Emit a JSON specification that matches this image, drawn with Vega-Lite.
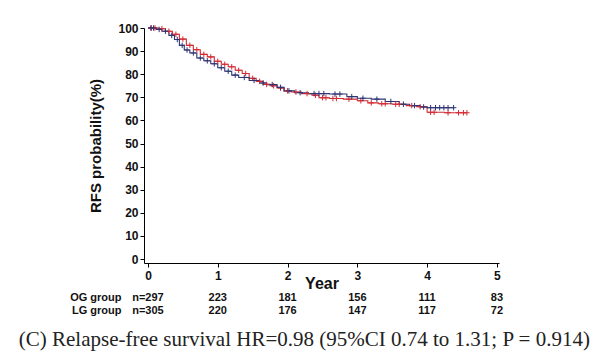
{
  "$schema": "https://vega.github.io/schema/vega-lite/v6.json",
  "background": "white",
  "padding": {"left": 18, "top": 22, "right": 5, "bottom": 5},
  "datasets": {
    "km": [
      {"g":"OG","t":0,"s":100,"c":0},{"g":"OG","t":0.05,"s":100,"c":1},{"g":"OG","t":0.1,"s":100,"c":1},{"g":"OG","t":0.15,"s":99.7,"c":0},{"g":"OG","t":0.2,"s":99.7,"c":1},{"g":"OG","t":0.25,"s":98.6,"c":0},{"g":"OG","t":0.3,"s":98.6,"c":1},{"g":"OG","t":0.35,"s":97.3,"c":0},{"g":"OG","t":0.4,"s":97.3,"c":1},{"g":"OG","t":0.45,"s":95.2,"c":0},{"g":"OG","t":0.5,"s":95.2,"c":1},{"g":"OG","t":0.55,"s":92.5,"c":0},{"g":"OG","t":0.6,"s":92.5,"c":1},{"g":"OG","t":0.65,"s":90.6,"c":0},{"g":"OG","t":0.7,"s":90.6,"c":1},{"g":"OG","t":0.75,"s":88.6,"c":0},{"g":"OG","t":0.8,"s":88.6,"c":1},{"g":"OG","t":0.85,"s":87.5,"c":0},{"g":"OG","t":0.9,"s":87.5,"c":1},{"g":"OG","t":0.95,"s":85.6,"c":0},{"g":"OG","t":1.0,"s":85.6,"c":1},{"g":"OG","t":1.05,"s":84.3,"c":0},{"g":"OG","t":1.1,"s":84.3,"c":1},{"g":"OG","t":1.15,"s":83.2,"c":0},{"g":"OG","t":1.2,"s":83.2,"c":1},{"g":"OG","t":1.25,"s":81.7,"c":0},{"g":"OG","t":1.3,"s":81.7,"c":1},{"g":"OG","t":1.35,"s":80.3,"c":0},{"g":"OG","t":1.4,"s":80.3,"c":1},{"g":"OG","t":1.45,"s":78.2,"c":0},{"g":"OG","t":1.5,"s":78.2,"c":1},{"g":"OG","t":1.55,"s":76.9,"c":0},{"g":"OG","t":1.6,"s":76.9,"c":1},{"g":"OG","t":1.65,"s":75.6,"c":0},{"g":"OG","t":1.7,"s":75.6,"c":1},{"g":"OG","t":1.75,"s":75.0,"c":0},{"g":"OG","t":1.8,"s":75.0,"c":1},{"g":"OG","t":1.85,"s":74.0,"c":0},{"g":"OG","t":1.9,"s":74.0,"c":1},{"g":"OG","t":1.95,"s":72.8,"c":0},{"g":"OG","t":2.0,"s":72.8,"c":1},{"g":"OG","t":2.05,"s":72.3,"c":0},{"g":"OG","t":2.12,"s":72.3,"c":1},{"g":"OG","t":2.2,"s":71.6,"c":0},{"g":"OG","t":2.28,"s":71.6,"c":1},{"g":"OG","t":2.35,"s":70.9,"c":0},{"g":"OG","t":2.4,"s":70.9,"c":1},{"g":"OG","t":2.45,"s":69.8,"c":0},{"g":"OG","t":2.5,"s":69.8,"c":1},{"g":"OG","t":2.55,"s":69.8,"c":1},{"g":"OG","t":2.6,"s":69.5,"c":0},{"g":"OG","t":2.65,"s":69.5,"c":1},{"g":"OG","t":2.7,"s":69.5,"c":1},{"g":"OG","t":2.8,"s":69.2,"c":0},{"g":"OG","t":2.88,"s":69.2,"c":1},{"g":"OG","t":3.0,"s":68.5,"c":0},{"g":"OG","t":3.05,"s":68.5,"c":1},{"g":"OG","t":3.15,"s":67.6,"c":0},{"g":"OG","t":3.2,"s":67.6,"c":1},{"g":"OG","t":3.3,"s":67.2,"c":0},{"g":"OG","t":3.35,"s":67.2,"c":1},{"g":"OG","t":3.4,"s":67.2,"c":1},{"g":"OG","t":3.5,"s":67.0,"c":0},{"g":"OG","t":3.55,"s":67.0,"c":1},{"g":"OG","t":3.6,"s":67.0,"c":1},{"g":"OG","t":3.7,"s":66.4,"c":0},{"g":"OG","t":3.78,"s":66.4,"c":1},{"g":"OG","t":3.85,"s":65.9,"c":0},{"g":"OG","t":3.9,"s":65.9,"c":1},{"g":"OG","t":4.0,"s":63.5,"c":0},{"g":"OG","t":4.05,"s":63.5,"c":1},{"g":"OG","t":4.1,"s":63.5,"c":1},{"g":"OG","t":4.25,"s":63.3,"c":0},{"g":"OG","t":4.3,"s":63.3,"c":1},{"g":"OG","t":4.45,"s":63.3,"c":1},{"g":"OG","t":4.52,"s":63.3,"c":1},{"g":"OG","t":4.57,"s":63.3,"c":1},
      {"g":"LG","t":0,"s":100,"c":0},{"g":"LG","t":0.04,"s":100,"c":1},{"g":"LG","t":0.08,"s":100,"c":1},{"g":"LG","t":0.12,"s":99.4,"c":0},{"g":"LG","t":0.16,"s":99.4,"c":1},{"g":"LG","t":0.2,"s":98.6,"c":0},{"g":"LG","t":0.25,"s":98.6,"c":1},{"g":"LG","t":0.3,"s":96.8,"c":0},{"g":"LG","t":0.34,"s":96.8,"c":1},{"g":"LG","t":0.38,"s":95.0,"c":0},{"g":"LG","t":0.42,"s":95.0,"c":1},{"g":"LG","t":0.45,"s":92.5,"c":0},{"g":"LG","t":0.49,"s":92.5,"c":1},{"g":"LG","t":0.52,"s":90.5,"c":0},{"g":"LG","t":0.56,"s":90.5,"c":1},{"g":"LG","t":0.6,"s":89.2,"c":0},{"g":"LG","t":0.65,"s":89.2,"c":1},{"g":"LG","t":0.7,"s":87.0,"c":0},{"g":"LG","t":0.75,"s":87.0,"c":1},{"g":"LG","t":0.8,"s":85.8,"c":0},{"g":"LG","t":0.85,"s":85.8,"c":1},{"g":"LG","t":0.9,"s":84.5,"c":0},{"g":"LG","t":0.95,"s":84.5,"c":1},{"g":"LG","t":1.0,"s":82.8,"c":0},{"g":"LG","t":1.05,"s":82.8,"c":1},{"g":"LG","t":1.1,"s":81.3,"c":0},{"g":"LG","t":1.15,"s":81.3,"c":1},{"g":"LG","t":1.2,"s":79.6,"c":0},{"g":"LG","t":1.25,"s":79.6,"c":1},{"g":"LG","t":1.3,"s":78.6,"c":0},{"g":"LG","t":1.38,"s":78.6,"c":1},{"g":"LG","t":1.45,"s":77.3,"c":0},{"g":"LG","t":1.52,"s":77.3,"c":1},{"g":"LG","t":1.6,"s":76.2,"c":0},{"g":"LG","t":1.65,"s":76.2,"c":1},{"g":"LG","t":1.7,"s":75.5,"c":0},{"g":"LG","t":1.78,"s":75.5,"c":1},{"g":"LG","t":1.85,"s":74.3,"c":0},{"g":"LG","t":1.9,"s":74.3,"c":1},{"g":"LG","t":1.95,"s":72.8,"c":0},{"g":"LG","t":2.02,"s":72.8,"c":1},{"g":"LG","t":2.1,"s":72.0,"c":0},{"g":"LG","t":2.18,"s":72.0,"c":1},{"g":"LG","t":2.3,"s":71.6,"c":0},{"g":"LG","t":2.38,"s":71.6,"c":1},{"g":"LG","t":2.45,"s":71.6,"c":1},{"g":"LG","t":2.52,"s":71.6,"c":1},{"g":"LG","t":2.6,"s":71.4,"c":0},{"g":"LG","t":2.68,"s":71.4,"c":1},{"g":"LG","t":2.75,"s":71.4,"c":1},{"g":"LG","t":2.85,"s":70.3,"c":0},{"g":"LG","t":2.92,"s":70.3,"c":1},{"g":"LG","t":3.0,"s":69.6,"c":0},{"g":"LG","t":3.08,"s":69.6,"c":1},{"g":"LG","t":3.2,"s":69.2,"c":0},{"g":"LG","t":3.28,"s":69.2,"c":1},{"g":"LG","t":3.4,"s":68.2,"c":0},{"g":"LG","t":3.48,"s":68.2,"c":1},{"g":"LG","t":3.6,"s":67.0,"c":0},{"g":"LG","t":3.66,"s":67.0,"c":1},{"g":"LG","t":3.75,"s":66.4,"c":0},{"g":"LG","t":3.82,"s":66.4,"c":1},{"g":"LG","t":3.9,"s":65.8,"c":0},{"g":"LG","t":3.95,"s":65.8,"c":1},{"g":"LG","t":4.0,"s":65.5,"c":0},{"g":"LG","t":4.05,"s":65.5,"c":1},{"g":"LG","t":4.12,"s":65.5,"c":1},{"g":"LG","t":4.18,"s":65.5,"c":1},{"g":"LG","t":4.24,"s":65.5,"c":1},{"g":"LG","t":4.3,"s":65.5,"c":1},{"g":"LG","t":4.38,"s":65.5,"c":1}
    ],
    "risk": [
      {"row":"OG group","t":0,"n":"n=297"},{"row":"OG group","t":1,"n":"223"},{"row":"OG group","t":2,"n":"181"},{"row":"OG group","t":3,"n":"156"},{"row":"OG group","t":4,"n":"111"},{"row":"OG group","t":5,"n":"83"},
      {"row":"LG group","t":0,"n":"n=305"},{"row":"LG group","t":1,"n":"220"},{"row":"LG group","t":2,"n":"176"},{"row":"LG group","t":3,"n":"147"},{"row":"LG group","t":4,"n":"117"},{"row":"LG group","t":5,"n":"72"}
    ]
  },
  "title": {
    "text": "(C) Relapse-free survival HR=0.98 (95%CI 0.74 to 1.31; P = 0.914)",
    "orient": "bottom",
    "anchor": "middle",
    "font": "Liberation Serif",
    "fontSize": 21,
    "fontWeight": "normal",
    "color": "#222222",
    "offset": 12,
    "dx": 18
  },
  "spacing": 0,
  "vconcat": [
    {
      "width": 355,
      "height": 235,
      "data": {"name": "km"},
      "encoding": {
        "x": {"field": "t", "type": "quantitative", "scale": {"domain": [-0.057, 5.03], "nice": false, "zero": false},
          "axis": {"values": [0,1,2,3,4,5], "format": "d", "labelOverlap": false, "labelFlush": false, "title": "Year", "grid": false, "domainColor": "#000", "tickColor": "#000", "tickSize": 4,
            "labelFont": "Liberation Sans", "labelFontWeight": "bold", "labelFontSize": 12, "labelColor": "#111", "labelPadding": 3,
            "titleFont": "Liberation Sans", "titleFontWeight": "bold", "titleFontSize": 16, "titleColor": "#111", "titlePadding": -6}},
        "y": {"field": "s", "type": "quantitative", "scale": {"domain": [-1.73, 100], "nice": false, "zero": false},
          "axis": {"values": [0,10,20,30,40,50,60,70,80,90,100], "format": "d", "labelOverlap": false, "labelFlush": false, "title": "RFS probability(%)", "grid": false, "domainColor": "#000", "tickColor": "#000", "tickSize": 4,
            "labelFont": "Liberation Sans", "labelFontWeight": "bold", "labelFontSize": 12, "labelColor": "#111", "labelPadding": 2,
            "titleFont": "Liberation Sans", "titleFontWeight": "bold", "titleFontSize": 15, "titleColor": "#111", "titlePadding": 14}},
        "color": {"field": "g", "type": "nominal", "scale": {"domain": ["OG", "LG"], "range": ["#d42a32", "#2e3474"]}, "legend": null}
      },
      "layer": [
        {
          "mark": {"type": "line", "interpolate": "step-after", "strokeWidth": 1.1}
        },
        {
          "transform": [{"filter": "datum.c == 1"}],
          "mark": {"type": "point", "shape": "M-1,0L1,0M0,-1L0,1", "filled": false, "strokeWidth": 1, "size": 30, "opacity": 1}
        }
      ]
    },
    {
      "width": 355,
      "height": 26,
      "data": {"name": "risk"},
      "mark": {"type": "text", "font": "Liberation Sans", "fontWeight": "bold", "fontSize": 11, "color": "#111"},
      "encoding": {
        "x": {"field": "t", "type": "quantitative", "scale": {"domain": [-0.057, 5.03], "nice": false, "zero": false}, "axis": null},
        "y": {"field": "row", "type": "nominal", "sort": ["OG group", "LG group"], "scale": {"paddingInner": 0, "paddingOuter": 0},
          "axis": {"title": null, "domain": false, "ticks": false, "labelPadding": 23, "labelFont": "Liberation Sans", "labelFontWeight": "bold", "labelFontSize": 11, "labelColor": "#111"}},
        "text": {"field": "n"}
      }
    }
  ],
  "config": {"view": {"stroke": null}}
}
